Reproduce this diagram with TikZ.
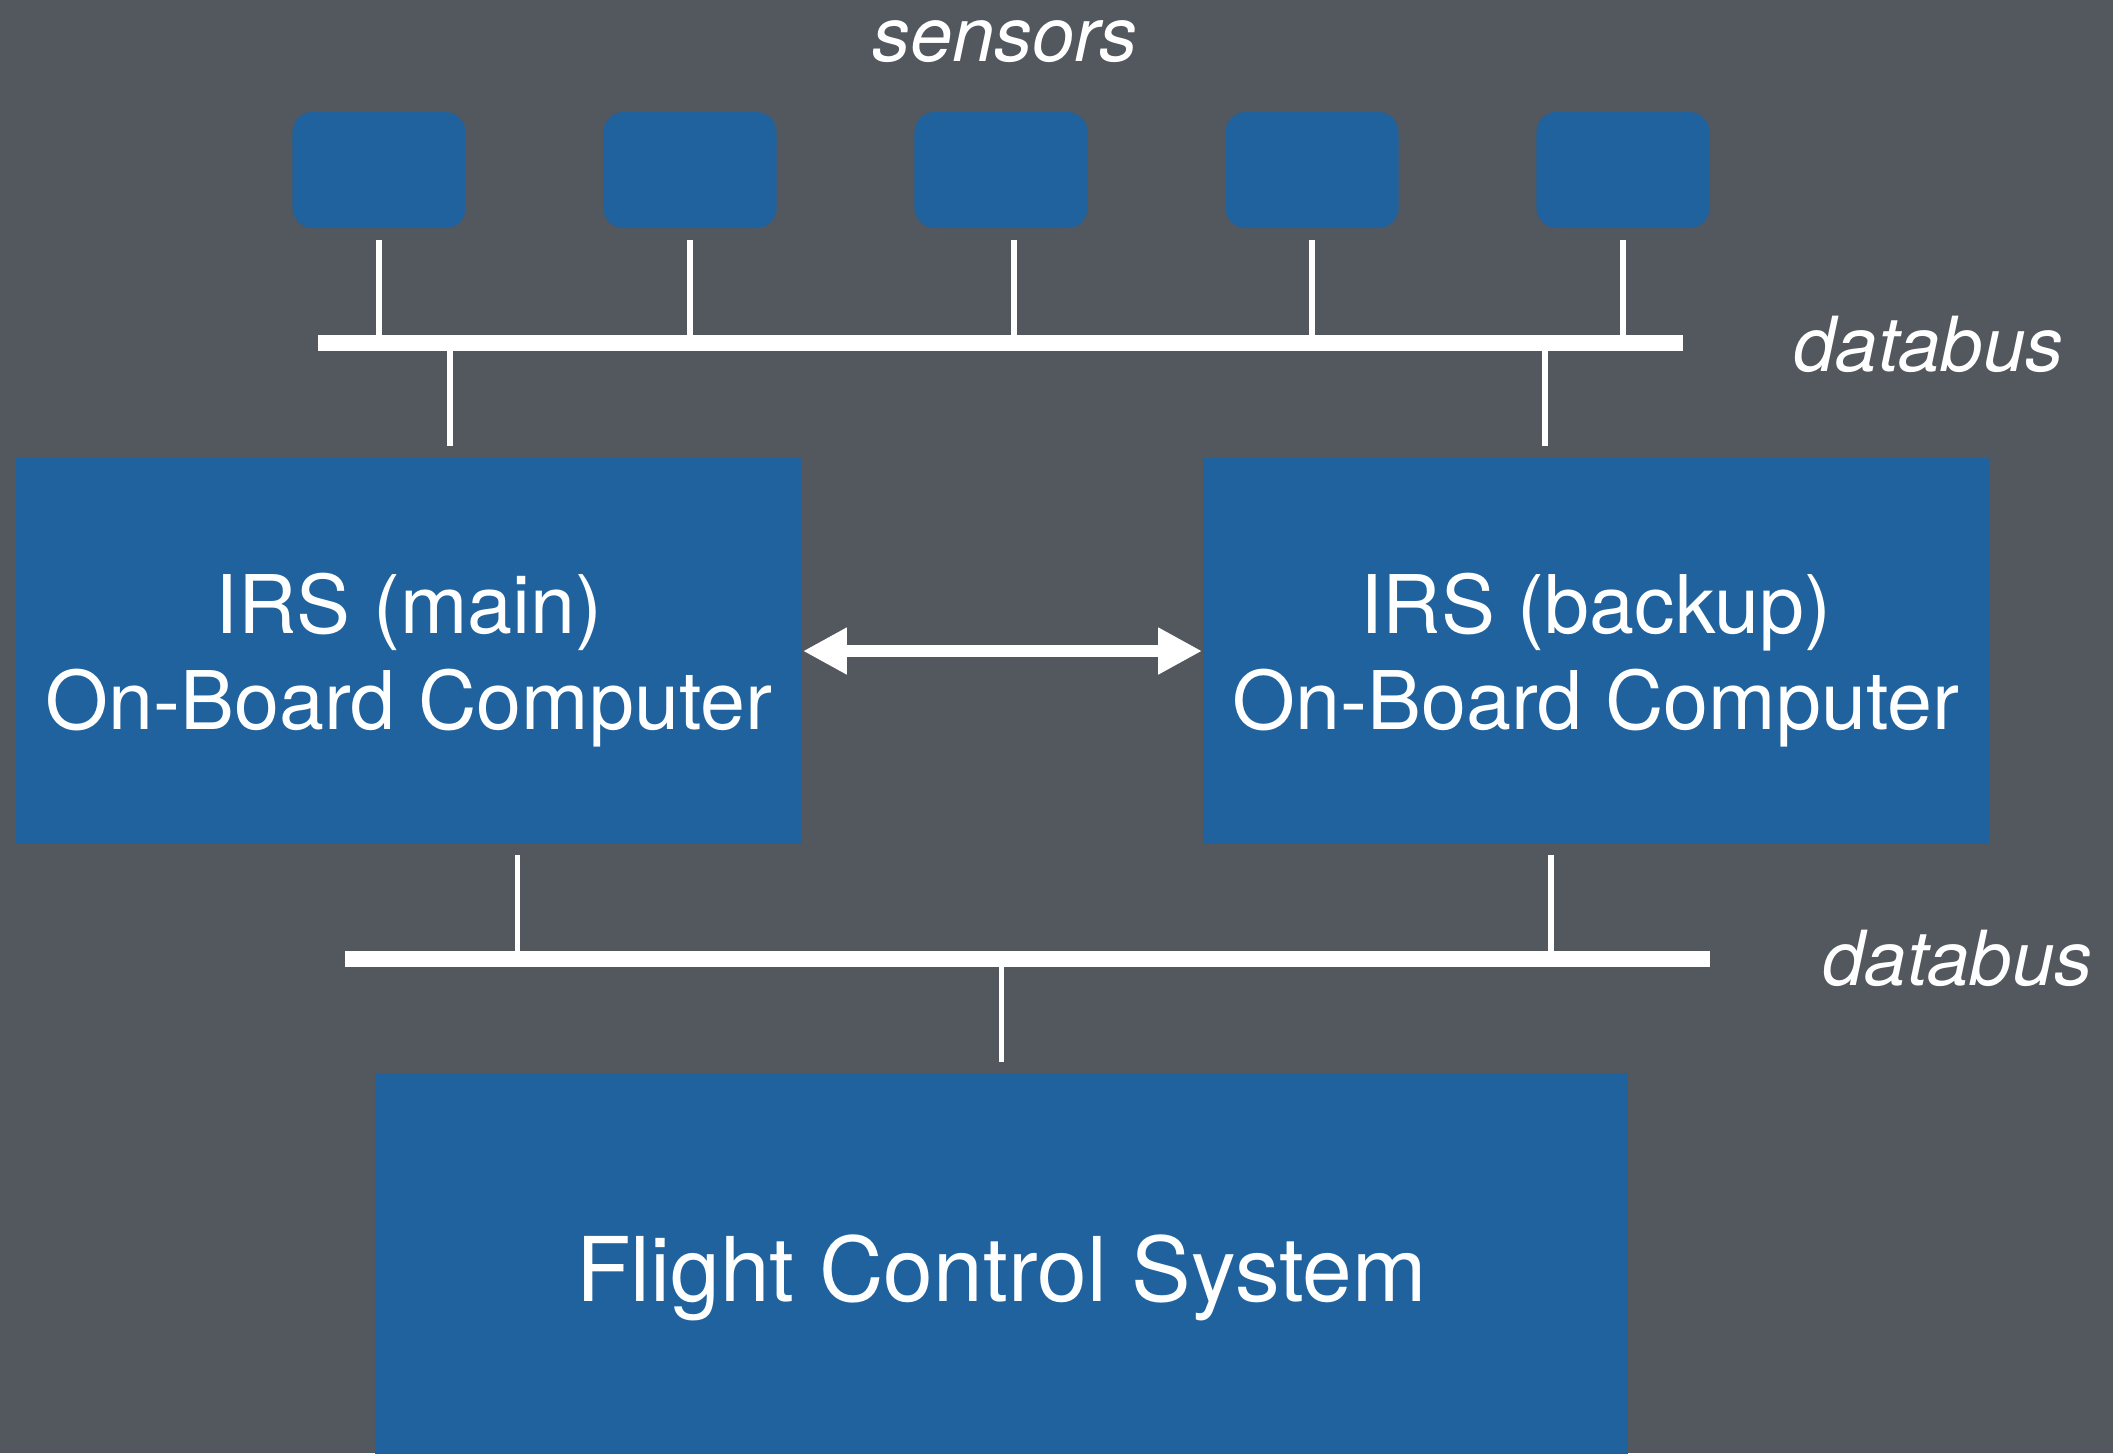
\documentclass[tikz,border=0pt]{standalone}
\usepackage{fontspec}
\setmainfont{TeX Gyre Heros}
\usetikzlibrary{arrows.meta}

\definecolor{slate}{RGB}{83,87,94}
\definecolor{boxblue}{RGB}{31,98,158}

\begin{document}
\begin{tikzpicture}[x=0.01cm,y=-0.01cm,>={Triangle[length=12.5pt,width=12.5pt]}]
	\tikzstyle{box} = [fill=boxblue,text=white,inner sep=0pt,align=center];
	\tikzstyle{sensorbox} = [box,rounded corners=0.2cm,minimum width=1.73cm,minimum height=1.16cm];
	\tikzstyle{obc} = [box,minimum width=7.86cm,minimum height=3.86cm,font=\fontsize{23}{27.3}\selectfont,text depth=0pt];
	\tikzstyle{tap} = [draw=white,line width=1.45pt];
	\tikzstyle{bus} = [draw=white,line width=4.55pt];
	\tikzstyle{tag} = [text=white,inner sep=0pt,font=\fontsize{21.6}{26}\selectfont\itshape];
	\clip (0,0) rectangle (2113,1453);
	\fill[slate] (0,0) rectangle (2113,1453);

	% sensors on the upper bus
	\node[tag,anchor=base] (senslbl) at (1005,61) {sensors};
	\foreach \i/\x in {1/379,2/690,3/1001,4/1312,5/1623}
		\node[sensorbox] (s\i) at (\x,170) {};

	% the two IRS computers and the flight control system
	\node[obc] (main) at (409,651) {IRS (main)\\On-Board Computer};
	\node[obc] (backup) at (1596,651) {IRS (backup)\\On-Board Computer};
	\node[box,minimum width=12.53cm,minimum height=4.1cm,font=\fontsize{25.4}{30}\selectfont] (fcs) at (1001.5,1278) {Flight Control System};

	% bus ends
	\coordinate (busAw) at (318,343);
	\coordinate (busAe) at (1683,343);
	\coordinate (busBw) at (345,959);
	\coordinate (busBe) at (1710,959);

	\foreach \i/\dx in {1/0,2/0,3/0.13,4/0,5/0}
		\draw[tap,shorten <=0.11cm] ([xshift=\dx cm]s\i.south) -- ([xshift=\dx cm]s\i.south |- busAw);
	\draw[tap,shorten >=0.11cm] ([xshift=0.41cm]main.north |- busAw) -- ([xshift=0.41cm]main.north);
	\draw[tap,shorten >=0.11cm] ([xshift=-0.51cm]backup.north |- busAw) -- ([xshift=-0.51cm]backup.north);
	\draw[tap,shorten <=0.10cm] ([xshift=1.08cm]main.south) -- ([xshift=1.08cm]main.south |- busBw);
	\draw[tap,shorten <=0.10cm] ([xshift=-0.45cm]backup.south) -- ([xshift=-0.45cm]backup.south |- busBw);
	\draw[tap,shorten >=0.10cm] (fcs.north |- busBw) -- (fcs.north);

	\draw[bus] (busAw) -- (busAe);
	\draw[bus] (busBw) -- (busBe);
	\node[tag,anchor=base west] (buslblA) at (1793,371) {databus};
	\node[tag,anchor=base west] (buslblB) at (1822,985) {databus};

	\draw[<->,white,line width=3.4pt] (main) -- (backup);
\end{tikzpicture}
\end{document}
